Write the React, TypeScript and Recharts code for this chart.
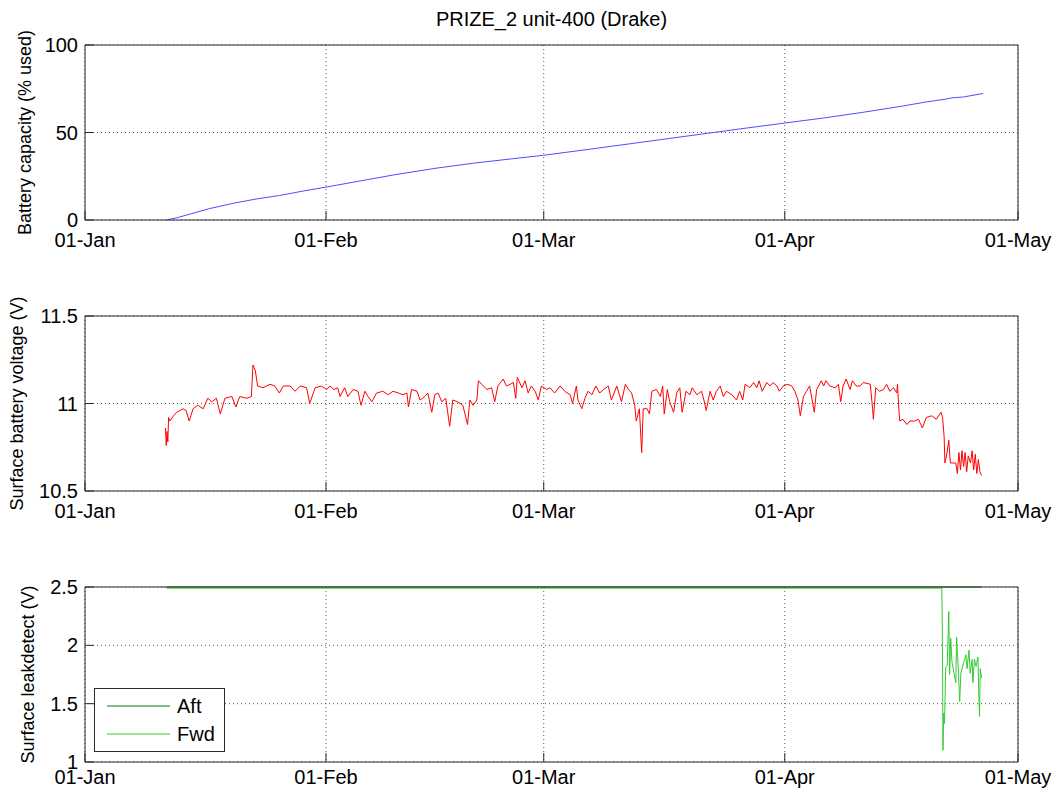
import React from "react";
import { LineChart, Line, XAxis, YAxis, CartesianGrid, Legend } from "recharts";

const FONT = "'Liberation Sans', Arial, Helvetica, sans-serif";
const AXIS_COLOR = "#2b2b2b";
const GRID_COLOR = "#5a5a5a";
const TICK_LEN = 9;
const WIDTH = 1056;

// x axis: days since 01-Jan
const monthTicks = [0, 31, 59, 90, 120];
const monthLabels = ["01-Jan", "01-Feb", "01-Mar", "01-Apr", "01-May"];

// panel 1 - battery capacity (% used)
const capacityDays = [10.5, 12, 14, 16, 19, 22, 25, 28, 31, 35, 40, 45, 50, 55, 59, 65, 70, 75, 80, 85, 90, 95, 100, 105, 108, 111, 111.5, 113, 115.5];
const capacityPct = [0, 1.5, 4, 6.5, 9.5, 12, 14, 16.5, 18.8, 22, 26, 29.5, 32.5, 35, 37, 40.5, 43.5, 46.5, 49.5, 52.5, 55.4, 58.3, 61.5, 65, 67.3, 69.3, 69.8, 70.3, 72.3];
const capacityTicks = [0, 50, 100];

// panel 2 - surface battery voltage (V)
const voltDays = [
  10.35, 10.45, 10.55, 10.65, 10.75, 10.9, 11.4, 11.8, 12.2, 12.6, 13.0, 13.4, 13.9, 14.5, 15.2, 15.8, 16.3, 16.9, 17.4, 18.0,
  18.9, 19.4, 19.9, 20.8, 21.4, 21.6, 21.9, 22.2, 22.9, 23.8, 24.4, 25.0, 25.5, 26.4, 27.0, 27.7, 28.5, 28.9, 29.6, 30.4,
  31.1, 31.5, 32.0, 32.5, 32.8, 33.4, 33.8, 34.5, 35.1, 35.5, 36.0, 36.4, 36.9, 37.5, 38.3, 39.0, 39.6, 40.3, 40.9, 41.4,
  41.6, 42.0, 42.7, 43.1, 43.7, 44.1, 44.6, 45.0, 45.4, 45.9, 46.4, 46.9, 47.3, 47.9, 48.6, 49.2, 49.5, 49.9, 50.4, 50.6,
  51.0, 51.7, 52.3, 52.7, 53.1, 53.8, 54.2, 54.7, 55.1, 55.4, 55.6, 56.2, 56.6, 57.0, 57.4, 57.9, 58.3, 58.7, 59.4, 59.8,
  60.4, 61.1, 61.7, 62.4, 62.7, 63.2, 63.4, 63.9, 64.3, 64.7, 65.2, 65.7, 66.2, 66.7, 67.3, 67.7, 68.4, 69.0, 69.5, 69.9,
  70.3, 70.7, 70.9, 71.3, 71.6, 71.8, 72.3, 72.6, 72.9, 73.5, 74.0, 74.3, 74.5, 74.9, 75.2, 75.7, 76.1, 76.5, 76.8, 77.3,
  77.8, 78.1, 78.7, 79.3, 79.6, 79.9, 80.4, 80.8, 81.2, 81.7, 82.1, 82.5, 83.2, 83.8, 84.2, 84.6, 84.9, 85.5, 86.0, 86.4,
  86.7, 87.1, 87.7, 88.1, 88.5, 89.0, 89.3, 89.8, 90.4, 90.9, 91.3, 91.7, 92.0, 92.4, 92.8, 93.2, 93.8, 94.1, 94.7, 95.0,
  95.3, 95.8, 96.5, 96.9, 97.2, 97.5, 97.9, 98.4, 98.7, 99.2, 99.7, 100.1, 101.0, 101.3, 101.4, 101.7, 102.2, 102.7, 103.1, 103.5,
  104.0, 104.4, 104.5, 104.7, 104.8, 105.2, 105.7, 106.1, 106.7, 107.2, 107.7, 108.2, 108.9, 109.5, 110.1, 110.3, 110.5, 110.6, 110.8, 111.1,
  111.3, 112.0, 112.2, 112.4, 112.6, 112.8, 113.0, 113.2, 113.4, 113.6, 113.9, 114.1, 114.3, 114.5, 114.7, 114.9, 115.1, 115.3,
];
const voltValues = [
  10.86, 10.76, 10.84, 10.78, 10.92, 10.9, 10.93, 10.95, 10.96, 10.97, 10.96, 10.9, 10.97, 10.99, 10.97, 11.03, 11.01, 11.03, 10.94, 11.03,
  11.04, 10.98, 11.04, 11.03, 11.04, 11.22, 11.19, 11.1, 11.09, 11.11, 11.1, 11.06, 11.1, 11.1, 11.07, 11.1, 11.09, 11.0, 11.09, 11.1,
  11.08, 11.1, 11.08, 11.09, 11.04, 11.09, 11.04, 11.08, 11.07, 10.99, 11.07, 11.04, 11.01, 11.06, 11.07, 11.05, 11.07, 11.06, 11.05, 11.06,
  10.98, 11.08, 11.07, 11.02, 11.04, 11.06, 10.95, 11.05, 11.06, 11.01, 11.03, 10.87, 11.02, 11.01, 10.99, 10.88, 11.02, 10.99, 11.02, 11.13,
  11.11, 11.08, 11.09, 11.01, 11.1, 11.14, 11.1, 11.11, 11.12, 11.03, 11.15, 11.09, 11.13, 11.06, 11.1, 11.07, 11.02, 11.1, 11.08, 11.09,
  11.06, 11.1, 11.07, 11.05, 11.0, 11.1, 11.02, 10.97, 11.03, 11.07, 11.05, 11.1, 11.06, 11.08, 11.1, 11.02, 11.1, 11.01, 11.11, 11.08,
  11.06, 10.99, 10.9, 10.97, 10.72, 10.97, 10.97, 10.94, 11.07, 11.08, 11.04, 11.1, 10.94, 11.08, 11.01, 10.95, 11.06, 11.09, 10.95, 11.07,
  11.05, 11.09, 11.05, 11.07, 11.02, 10.96, 11.07, 11.02, 11.07, 11.1, 11.04, 11.07, 11.05, 11.02, 11.07, 11.02, 11.11, 11.09, 11.12, 11.09,
  11.13, 11.07, 11.12, 11.1, 11.12, 11.1, 11.07, 11.1, 11.11, 11.1, 11.07, 11.02, 10.93, 11.04, 11.07, 11.1, 10.95, 11.08, 11.13, 11.1,
  11.13, 11.1, 11.09, 11.11, 11.01, 11.1, 11.14, 11.08, 11.13, 11.1, 11.1, 11.12, 11.11, 10.97, 10.91, 11.09, 11.07, 11.08, 11.11, 11.07,
  11.09, 11.06, 11.11, 10.95, 10.9, 10.91, 10.88, 10.9, 10.9, 10.91, 10.86, 10.92, 10.93, 10.91, 10.95, 10.92, 10.81, 10.66, 10.7, 10.79,
  10.66, 10.66, 10.6, 10.72, 10.62, 10.73, 10.64, 10.72, 10.61, 10.7, 10.66, 10.73, 10.62, 10.71, 10.6, 10.68, 10.61, 10.59,
];
const voltTicks = [10.5, 11, 11.5];

// panel 3 - surface leakdetect (V)
const aftDays = [10.5, 115.3];
const aftValues = [2.5, 2.5];
const fwdDays = [
  10.5, 110.2, 110.25, 110.3, 110.35, 110.45, 110.55, 110.7, 110.9, 111.1, 111.2, 111.35, 111.5, 112.0, 112.1, 112.3, 112.5, 112.65,
  113.0, 113.15, 113.3, 113.45, 113.7, 113.85, 114.1, 114.2, 114.4, 114.6, 114.85, 114.95, 115.05, 115.15, 115.3,
];
const fwdValues = [
  2.49, 2.49, 2.26, 1.79, 1.1, 1.42, 1.33, 1.81, 1.83, 2.29, 1.75, 2.06, 1.86, 1.68, 2.07, 1.83, 1.52, 1.76,
  1.85, 1.88, 1.92, 1.8, 1.96, 1.76, 1.88, 1.68, 1.88, 1.82, 1.9, 1.59, 1.39, 1.8, 1.72,
];
const leakTicks = [1, 1.5, 2, 2.5];

const BLUE = "#4d4dff";
const RED = "#ff0000";
const AFT_COLOR = "#0a7d0a";
const FWD_COLOR = "#33cc33";

const toPoints = (days: number[], vals: number[]) => days.map((d, i) => ({ d, v: vals[i] }));

// month label sits `labelOffset` px below the axis (baseline)
const makeBottomTick = (labelOffset: number) => (props: any) => {
  const { x, y, payload } = props;
  return (
    <g>
      <line x1={x} x2={x} y1={y} y2={y - TICK_LEN} stroke={AXIS_COLOR} />
      <text x={x} y={y + labelOffset} textAnchor="middle" fontSize={20} fontFamily={FONT} fill="#000">
        {monthLabels[monthTicks.indexOf(payload.value)]}
      </text>
    </g>
  );
};

const TopTick = (props: any) => {
  const { x, y } = props;
  return <line x1={x} x2={x} y1={y} y2={y + TICK_LEN} stroke={AXIS_COLOR} />;
};

const LeftTick = (props: any) => {
  const { x, y, payload } = props;
  return (
    <g>
      <line x1={x} x2={x + TICK_LEN} y1={y} y2={y} stroke={AXIS_COLOR} />
      <text x={x - 7} y={y + 7} textAnchor="end" fontSize={20} fontFamily={FONT} fill="#000">
        {String(payload.value)}
      </text>
    </g>
  );
};

const RightTick = (props: any) => {
  const { x, y } = props;
  return <line x1={x} x2={x - TICK_LEN} y1={y} y2={y} stroke={AXIS_COLOR} />;
};

const LeakLegend = () => (
  <svg width={131} height={64} style={{ display: "block" }}>
    <rect x={0.5} y={0.5} width={130} height={63} fill="#fff" stroke={AXIS_COLOR} />
    <line x1={13} x2={76} y1={18} y2={18} stroke={AFT_COLOR} />
    <text x={83} y={25} fontSize={20} fontFamily={FONT} fill="#000">Aft</text>
    <line x1={13} x2={76} y1={46} y2={46} stroke={FWD_COLOR} />
    <text x={83} y={53} fontSize={20} fontFamily={FONT} fill="#000">Fwd</text>
  </svg>
);

type Series = { key: string; data: { d: number; v: number }[]; color: string };

function Panel(props: {
  top: number;
  height: number;
  plotTop: number;
  plotBottom: number;
  domain: [number, number];
  ticks: number[];
  label: string;
  labelX: number;
  labelOffset: number;
  series: Series[];
  legend?: boolean;
}) {
  const { top, height, plotTop, plotBottom, domain, ticks, label, labelX, labelOffset, series, legend } = props;
  const localTop = plotTop - top;
  const localBottom = plotBottom - top;
  const labelY = (localTop + localBottom) / 2;
  return (
    <div style={{ position: "absolute", left: 0, top, width: WIDTH, height }}>
      <LineChart
        width={WIDTH}
        height={height}
        margin={{ top: localTop - 1, bottom: height - localBottom - 20, left: 25, right: 37 }}
      >
        <CartesianGrid stroke={GRID_COLOR} strokeDasharray="1 3" />
        <XAxis
          dataKey="d"
          type="number"
          domain={[0, 120]}
          ticks={monthTicks}
          interval={0}
          height={20}
          tickSize={0}
          tickMargin={0}
          tickLine={false}
          axisLine={{ stroke: AXIS_COLOR }}
          tick={makeBottomTick(labelOffset)}
        />
        <XAxis
          xAxisId="top"
          orientation="top"
          dataKey="d"
          type="number"
          domain={[0, 120]}
          ticks={monthTicks}
          interval={0}
          height={1}
          tickSize={0}
          tickMargin={0}
          tickLine={false}
          axisLine={{ stroke: AXIS_COLOR }}
          tick={TopTick}
        />
        <YAxis
          type="number"
          domain={domain}
          ticks={ticks}
          interval={0}
          width={60}
          tickSize={0}
          tickMargin={0}
          tickLine={false}
          axisLine={{ stroke: AXIS_COLOR }}
          tick={LeftTick}
          label={() => (
            <text
              x={labelX}
              y={labelY}
              transform={`rotate(-90, ${labelX}, ${labelY})`}
              textAnchor="middle"
              fontSize={18}
              fontFamily={FONT}
              fill="#000"
            >
              {label}
            </text>
          )}
        />
        <YAxis
          yAxisId="right"
          orientation="right"
          type="number"
          domain={domain}
          ticks={ticks}
          interval={0}
          width={1}
          tickSize={0}
          tickMargin={0}
          tickLine={false}
          axisLine={{ stroke: AXIS_COLOR }}
          tick={RightTick}
        />
        {series.map((s) => (
          <Line
            key={s.key}
            name={s.key}
            data={s.data}
            dataKey="v"
            type="linear"
            stroke={s.color}
            strokeWidth={1}
            dot={false}
            activeDot={false}
            isAnimationActive={false}
          />
        ))}
        {legend && (
          <Legend
            layout="vertical"
            align="center"
            verticalAlign="middle"
            content={LeakLegend}
            wrapperStyle={{ left: 94, top: 688 - top, width: 131, height: 64 }}
          />
        )}
      </LineChart>
    </div>
  );
}

export default function App() {
  return (
    <div
      style={{
        position: "absolute",
        left: 0,
        top: 0,
        width: WIDTH,
        height: 789,
        background: "#fff",
        fontFamily: FONT,
      }}
    >
      <div
        style={{
          position: "absolute",
          left: 85,
          top: 8,
          width: 933,
          textAlign: "center",
          fontSize: 20,
          lineHeight: "22px",
          color: "#000",
        }}
      >
        PRIZE_2 unit-400 (Drake)
      </div>
      <Panel
        top={0}
        height={270}
        plotTop={45}
        plotBottom={220}
        domain={[0, 100]}
        ticks={capacityTicks}
        label="Battery capacity (% used)"
        labelX={31}
        labelOffset={27}
        series={[{ key: "capacity", data: toPoints(capacityDays, capacityPct), color: BLUE }]}
      />
      <Panel
        top={270}
        height={270}
        plotTop={316}
        plotBottom={491}
        domain={[10.5, 11.5]}
        ticks={voltTicks}
        label="Surface battery voltage (V)"
        labelX={23}
        labelOffset={27}
        series={[{ key: "voltage", data: toPoints(voltDays, voltValues), color: RED }]}
      />
      <Panel
        top={540}
        height={249}
        plotTop={587}
        plotBottom={762}
        domain={[1, 2.5]}
        ticks={leakTicks}
        label="Surface leakdetect (V)"
        labelX={34}
        labelOffset={22}
        legend
        series={[
          { key: "Aft", data: toPoints(aftDays, aftValues), color: AFT_COLOR },
          { key: "Fwd", data: toPoints(fwdDays, fwdValues), color: FWD_COLOR },
        ]}
      />
    </div>
  );
}
